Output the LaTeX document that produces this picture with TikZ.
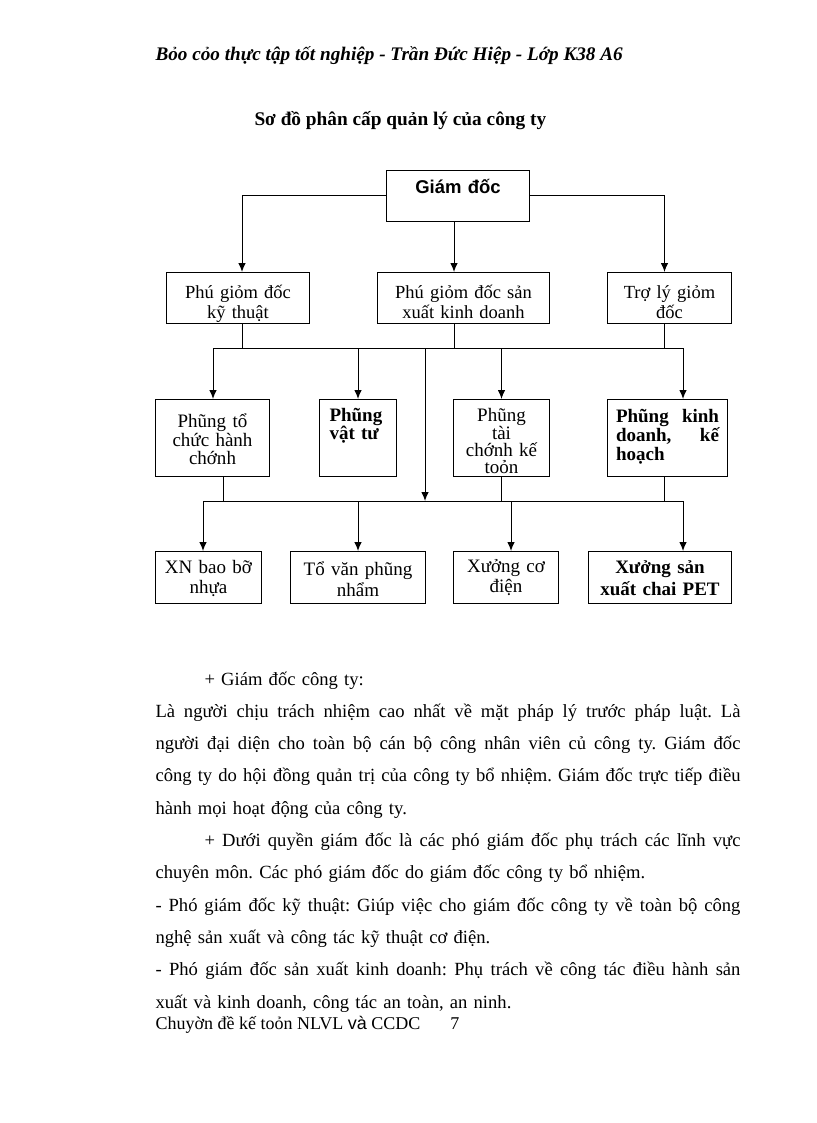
\documentclass[tikz,border=0pt]{standalone}
\usepackage{fontspec}
\usetikzlibrary{arrows.meta}
\setmainfont{Liberation Serif}
\newfontfamily\arialfont{Liberation Sans}
\frenchspacing
\newcommand{\jline}[1]{\makebox[\linewidth][s]{\spaceskip=0pt\xspaceskip=0pt #1}}
\newcommand{\iline}[1]{\hspace*{49pt}\makebox[\dimexpr\linewidth-49pt\relax][s]{\spaceskip=0pt\xspaceskip=0pt #1}}

\begin{document}
\begin{tikzpicture}[>={Latex[length=9pt,width=7.5pt]},x=1pt,y=-1pt,line width=1pt,
  box/.style={draw,rectangle,anchor=north west,inner xsep=4pt,inner ysep=0pt,align=center,
    font=\fontsize{18.5}{20}\selectfont},
  dims/.style n args={3}{text width=#1pt,text height=#2pt,text depth=#3pt},
  txt/.style={anchor=base west,inner sep=0pt}]
  \useasboundingbox (0,0) rectangle (816,1123);

  \node[txt,font=\fontsize{19.2}{21}\selectfont\bfseries\itshape](head) at (155,61)
    {Bỏo cỏo thực tập tốt nghiệp - Trần Đức Hiệp - Lớp K38 A6};
  \node[txt,font=\fontsize{19.3}{21}\selectfont\bfseries](title) at (254,126)
    {Sơ đồ phân cấp quản lý của công ty};

  \node[box,dims={135}{23}{28},font=\fontsize{18.5}{20}\selectfont\arialfont\bfseries](gd) at (386,170) {Giám đốc};

  \node[box,dims={135}{26}{25}](pkt) at (166,272) {Phú giỏm đốc\\kỹ thuật};
  \node[box,dims={164}{26}{25}](psx) at (377,272) {Phú giỏm đốc sản\\xuất kinh doanh};
  \node[box,dims={116}{26}{25}](tly) at (607,272) {Trợ lý giỏm\\đốc};

  \node[box,dims={106}{28}{49},font=\fontsize{19}{18.5}\selectfont](ptc) at (155,399) {Phũng tổ\\chức hành\\chớnh};
  \node[box,dims={57}{22}{55},inner xsep=10pt,align=left,font=\fontsize{19}{18}\selectfont\bfseries](pvt) at (319,399) {Phũng\\vật tư};
  \node[box,dims={88}{22}{55},font=\fontsize{19}{17}\selectfont](ptch) at (453,399) {Phũng\\tài\\chớnh kế\\toỏn};
  \node[box,dims={103}{23}{54},inner xsep=8.5pt,align=left,font=\fontsize{19}{19}\selectfont\bfseries](pkd) at (607,399) {Phũng\hfill kinh\\doanh,\hfill kế\\hoạch};

  \node[box,dims={98}{22}{30},font=\fontsize{19}{20}\selectfont](xnb) at (155,551) {XN bao bỡ\\nhựa};
  \node[box,dims={127}{24}{28},font=\fontsize{19}{21}\selectfont](tvp) at (290,551) {Tổ văn phũng\\nhẩm};
  \node[box,dims={97}{21}{31},font=\fontsize{19}{20}\selectfont](xcd) at (453,551) {Xưởng cơ\\điện};
  \node[box,dims={135}{22}{30},font=\fontsize{19}{22}\selectfont\bfseries](xsx) at (588,551) {Xưởng sản\\xuất chai PET};

  \coordinate (b1w) at (213,348);
  \coordinate (b1e) at (683,348);
  \coordinate (b2w) at (203,501);
  \coordinate (b2e) at (683,501);
  \coordinate (mid) at (425,348);

  \draw[->] (gd.west) -| ([xshift=4pt]pkt.north);
  \draw[->] ([xshift=-4pt]gd.south) -- ([xshift=-4pt]gd.south |- psx.north);
  \draw[->] (gd.east) -| ([xshift=-5pt]tly.north);

  \draw (b1w) -- (b1e);
  \draw ([xshift=4pt]pkt.south) -- ([xshift=4pt]pkt.south |- b1w);
  \draw ([xshift=-4pt]gd.south |- psx.south) -- ([xshift=-4pt]gd.south |- b1w);
  \draw ([xshift=-5pt]tly.south) -- ([xshift=-5pt]tly.south |- b1w);
  \draw[->] (b1w) -- (b1w |- ptc.north);
  \draw[->] (pvt.north |- b1w) -- (pvt.north);
  \draw[->] (mid) -- (mid |- b2w);
  \draw[->] (ptch.north |- b1w) -- (ptch.north);
  \draw[->] (b1e) -- (b1e |- pkd.north);

  \draw (b2w) -- (b2e);
  \draw ([xshift=11pt]ptc.south) -- ([xshift=11pt]ptc.south |- b2w);
  \draw (ptch.south) -- (ptch.south |- b2w);
  \draw ([xshift=-3pt]pkd.south) -- ([xshift=-3pt]pkd.south |- b2w);
  \draw[->] (b2w) -- (b2w |- xnb.north);
  \draw[->] (tvp.north |- b2w) -- (tvp.north);
  \draw[->] ([xshift=5pt]xcd.north |- b2w) -- ([xshift=5pt]xcd.north);
  \draw[->] (b2e) -- (b2e |- xsx.north);

  \node[txt,text width=585pt,align=left,font=\fontsize{18.6}{32.3}\selectfont](body) at (155,685)
    {\hspace*{49pt}+ Giám đốc công ty:\\
     \jline{Là người chịu trách nhiệm cao nhất về mặt pháp lý trước pháp luật. Là}\\
     \jline{người đại diện cho toàn bộ cán bộ công nhân viên củ công ty. Giám đốc}\\
     \jline{công ty do hội đồng quản trị của công ty bổ nhiệm. Giám đốc trực tiếp điều}\\
     hành mọi hoạt động của công ty.\\
     \iline{+ Dưới quyền giám đốc là các phó giám đốc phụ trách các lĩnh vực}\\
     chuyên môn. Các phó giám đốc do giám đốc công ty bổ nhiệm.\\
     \jline{- Phó giám đốc kỹ thuật: Giúp việc cho giám đốc công ty về toàn bộ công}\\
     nghệ sản xuất và công tác kỹ thuật cơ điện.\\
     \jline{- Phó giám đốc sản xuất kinh doanh: Phụ trách về công tác điều hành sản}\\
     xuất và kinh doanh, công tác an toàn, an ninh.};
  \node[txt,font=\fontsize{18}{20}\selectfont](foot) at (155,1029)
    {Chuyờn đề kế toỏn NLVL {\arialfont và} CCDC\hspace{30pt}7};
\end{tikzpicture}
\end{document}
